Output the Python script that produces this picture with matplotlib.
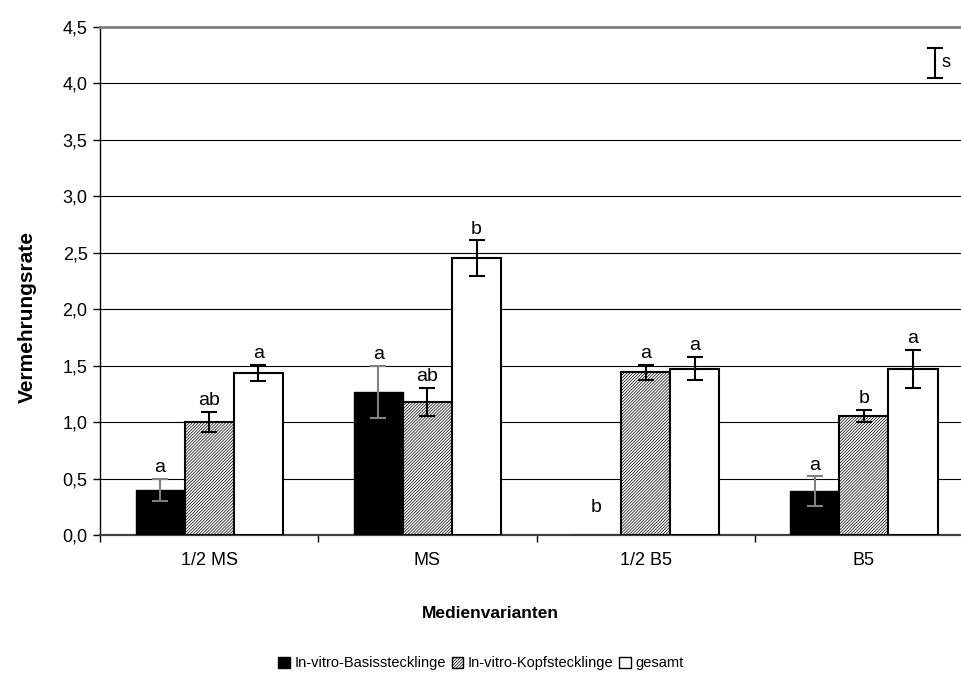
import matplotlib
matplotlib.use("Agg")
from matplotlib import pyplot as plt
from matplotlib.patches import Patch
import numpy as np

plt.rcParams['font.family'] = ['Liberation Sans', 'DejaVu Sans']
plt.rcParams['hatch.linewidth'] = 0.5
plt.rcParams['hatch.color'] = '#333333'

# Daten
kategorien = ["1/2 MS", "MS", "1/2 B5", "B5"]
serien = ["In-vitro-Basisstecklinge", "In-vitro-Kopfstecklinge", "gesamt"]
basis = [0.40, 1.265, 0.0, 0.39]
basis_err = [0.095, 0.23, 0.0, 0.13]
kopf = [1.00, 1.18, 1.44, 1.055]
kopf_err = [0.09, 0.125, 0.07, 0.05]
gesamt = [1.435, 2.45, 1.475, 1.47]
gesamt_err = [0.075, 0.16, 0.10, 0.17]
buchst_basis = ["a", "a", "b", "a"]
buchst_kopf = ["ab", "ab", "a", "b"]
buchst_gesamt = ["a", "b", "a", "a"]
yticks = np.arange(0, 4.51, 0.5)

fig = plt.figure(figsize=(9.62, 6.96), dpi=100)
ax = fig.add_axes([0.104, 0.2313, 0.9075, 0.7299])

x = np.arange(len(kategorien))
w = 0.225
schraffur = "/" * 11

ax.bar(x - w, basis, w, color="black", edgecolor="black", linewidth=1.0, zorder=3)
ax.bar(x, kopf, w, color="white", edgecolor="black", hatch=schraffur, linewidth=1.5, zorder=3)
ax.bar(x + w, gesamt, w, color="white", edgecolor="black", linewidth=1.5, zorder=3)

for xs, vals, errs, col in [(x - w, basis, basis_err, "#808080"),
                            (x, kopf, kopf_err, "black"),
                            (x + w, gesamt, gesamt_err, "black")]:
    b = np.array(vals)
    e = np.array(errs)
    m = b > 0
    ax.errorbar(xs[m], b[m], yerr=e[m], fmt="none", ecolor=col,
                elinewidth=1.5, capsize=5.5, capthick=1.5, zorder=4)

# Signifikanzbuchstaben
for xs, vals, errs, labs in [(x - w, basis, basis_err, buchst_basis),
                             (x, kopf, kopf_err, buchst_kopf),
                             (x + w, gesamt, gesamt_err, buchst_gesamt)]:
    for xi, v, e, t in zip(xs, vals, errs, labs):
        off = 2 if v > 0 else 14
        ax.annotate(t, (xi, v + e), xytext=(0, off), textcoords="offset points",
                    ha="center", va="bottom", fontsize=14, zorder=5)

# Legende fuer s
ax.errorbar([3.325], [4.18], yerr=[0.13], fmt="none", ecolor="black",
            elinewidth=1.5, capsize=5.5, capthick=1.5)
ax.text(3.355, 4.19, "s", fontsize=13, va="center", ha="left")

ax.set_xlim(-0.5, 3.5)
ax.set_ylim(0, 4.5)
ax.set_yticks(yticks)
ax.set_yticklabels([f"{v:.1f}".replace(".", ",") for v in yticks], fontsize=13)
ax.yaxis.grid(True, color="black", linewidth=0.8, zorder=0)
ax.set_axisbelow(True)

ax.set_xticks(np.arange(-0.5, 3.0, 1.0))
ax.set_xticklabels([])
ax.set_xticks(x, minor=True)
ax.set_xticklabels(kategorien, minor=True, fontsize=13)
ax.tick_params(axis="x", which="minor", length=0, pad=12)
ax.tick_params(axis="x", which="major", length=5, direction="out", width=1)
ax.tick_params(axis="y", length=5, direction="out", width=1, pad=4)

ax.spines["right"].set_visible(False)
ax.spines["top"].set_color("#808080")
ax.spines["top"].set_linewidth(2)
ax.spines["left"].set_linewidth(1)
ax.spines["bottom"].set_color("#404040")
ax.spines["bottom"].set_linewidth(1.6)

ax.set_ylabel("Vermehrungsrate", fontsize=15, fontweight="bold")
ax.yaxis.set_label_coords(-0.072, 0.43)
fig.text(0.51, 0.118, "Medienvarianten", fontsize=12.5, fontweight="bold", ha="center", va="center")

handles = [Patch(facecolor="black", edgecolor="black"),
           Patch(facecolor="white", edgecolor="black", hatch=schraffur),
           Patch(facecolor="white", edgecolor="black")]
fig.legend(handles, serien, loc="center", bbox_to_anchor=(0.5, 0.047), ncol=3,
           frameon=False, fontsize=10.5, handlelength=0.8, handleheight=0.8,
           handletextpad=0.3, columnspacing=0.4)

fig.savefig("out.png", dpi=100)
